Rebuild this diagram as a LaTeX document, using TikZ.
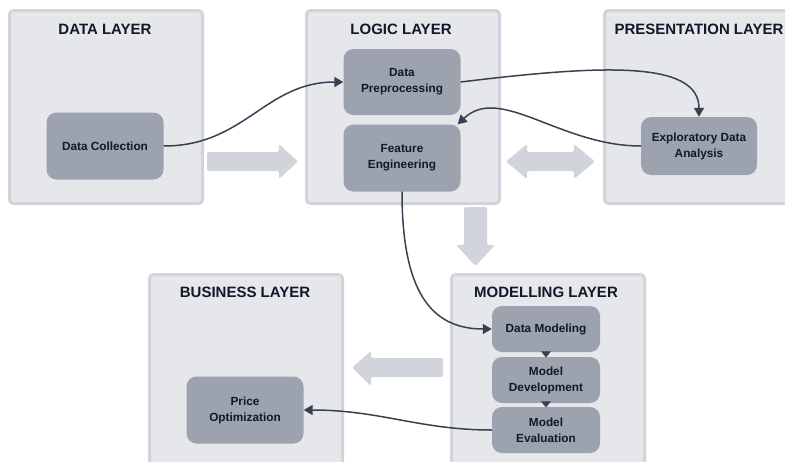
\documentclass[tikz,border=0pt]{standalone}
\usepackage{fontspec}
\setmainfont{Liberation Sans}
\usetikzlibrary{arrows.meta}
\definecolor{layerfill}{HTML}{E5E7EB}
\definecolor{layerborder}{HTML}{D1D5DB}
\definecolor{boxfill}{HTML}{9CA3AF}
\definecolor{bigarrow}{HTML}{D1D5DB}
\definecolor{txt}{HTML}{111827}
\definecolor{conn}{HTML}{374151}
\tikzset{
  layer/.style={draw=layerborder, line width=3pt, fill=layerfill, rounded corners=4pt,
    anchor=north west, minimum width=193pt, minimum height=193pt, inner sep=0pt},
  title/.style={font=\bfseries\fontsize{15}{17}\selectfont, text=txt, inner sep=0pt},
  stepbox/.style={fill=boxfill, rounded corners=10pt, inner sep=0pt, align=center,
    font=\bfseries\fontsize{11.8}{16}\selectfont, text=txt},
  conn/.style={draw=conn, line width=1.5pt, -{Triangle[length=9pt,width=10pt]}},
  small/.style={draw=conn, line width=0.1pt, -{Triangle[length=6pt,width=10pt]}, shorten >=-0.5pt},
  fat/.style={fill=bigarrow, rounded corners=2pt}
}
\begin{document}
\begin{tikzpicture}[x=1pt,y=-1pt]
\useasboundingbox (0,0) rectangle (785,461);
\clip (0,0) rectangle (785,461);
% layers
\node[layer] (dl) at (8,9) {};
\node[layer] (ll) at (305,9) {};
\node[layer] (pl) at (603,9) {};
\node[layer] (bl) at (148,273) {};
\node[layer] (ml) at (450,273) {};
% titles
\node[title] (tdl) at (105,29) {DATA LAYER};
\node[title] (tll) at (401,29) {LOGIC LAYER};
\node[title] (tpl) at (699,29) {PRESENTATION LAYER};
\node[title] (tbl) at (245,292) {BUSINESS LAYER};
\node[title] (tml) at (546,292) {MODELLING LAYER};
% boxes
\node[stepbox, minimum width=117pt, minimum height=67pt] (dc) at (105,146) {Data Collection};
\node[stepbox, minimum width=117pt, minimum height=66pt] (dp) at (402,82) {Data\\Preprocessing};
\node[stepbox, minimum width=117pt, minimum height=67pt] (fe) at (402,158) {Feature\\Engineering};
\node[stepbox, minimum width=116pt, minimum height=58pt] (eda) at (699,146) {Exploratory Data\\Analysis};
\node[stepbox, minimum width=108pt, minimum height=46pt] (dm) at (546,329) {Data Modeling};
\node[stepbox, minimum width=108pt, minimum height=46pt] (md) at (546,380) {Model\\Development};
\node[stepbox, minimum width=108pt, minimum height=46pt] (me) at (546,430) {Model\\Evaluation};
\node[stepbox, minimum width=117pt, minimum height=67pt] (po) at (245,410) {Price\\Optimization};
% big arrows
\fill[fat] (207,152) -- (279,152) -- (279,144) -- (298,161.5) -- (279,179) -- (279,171) -- (207,171) -- cycle;
\fill[fat] (506,161.5) -- (527,144) -- (527,152) -- (574,152) -- (574,144) -- (595,161.5) -- (574,179) -- (574,171) -- (527,171) -- (527,179) -- cycle;
\fill[fat] (464,207) -- (487,207) -- (487,245) -- (495,245) -- (475.5,266) -- (456,245) -- (464,245) -- cycle;
\fill[fat] (443,358) -- (371,358) -- (371,351) -- (352,367.5) -- (371,386) -- (371,377) -- (443,377) -- cycle;
% connectors
\draw[conn] (dc.east) .. controls (245,146) and (265,82) .. (dp.west);
\draw[conn] (dp.east) .. controls (600,65) and (699,60) .. (eda.north);
\draw[conn] (eda.west) .. controls (560,146) and (500,84) .. ([xshift=-3pt]fe.north east);
\draw[conn] (fe.south) .. controls (402,290) and (430,329) .. (dm.west);
\draw[conn] (me.west) .. controls (420,430) and (380,410) .. (po.east);
\draw[small] (dm.south) -- (md.north);
\draw[small] (md.south) -- (me.north);
\end{tikzpicture}
\end{document}
